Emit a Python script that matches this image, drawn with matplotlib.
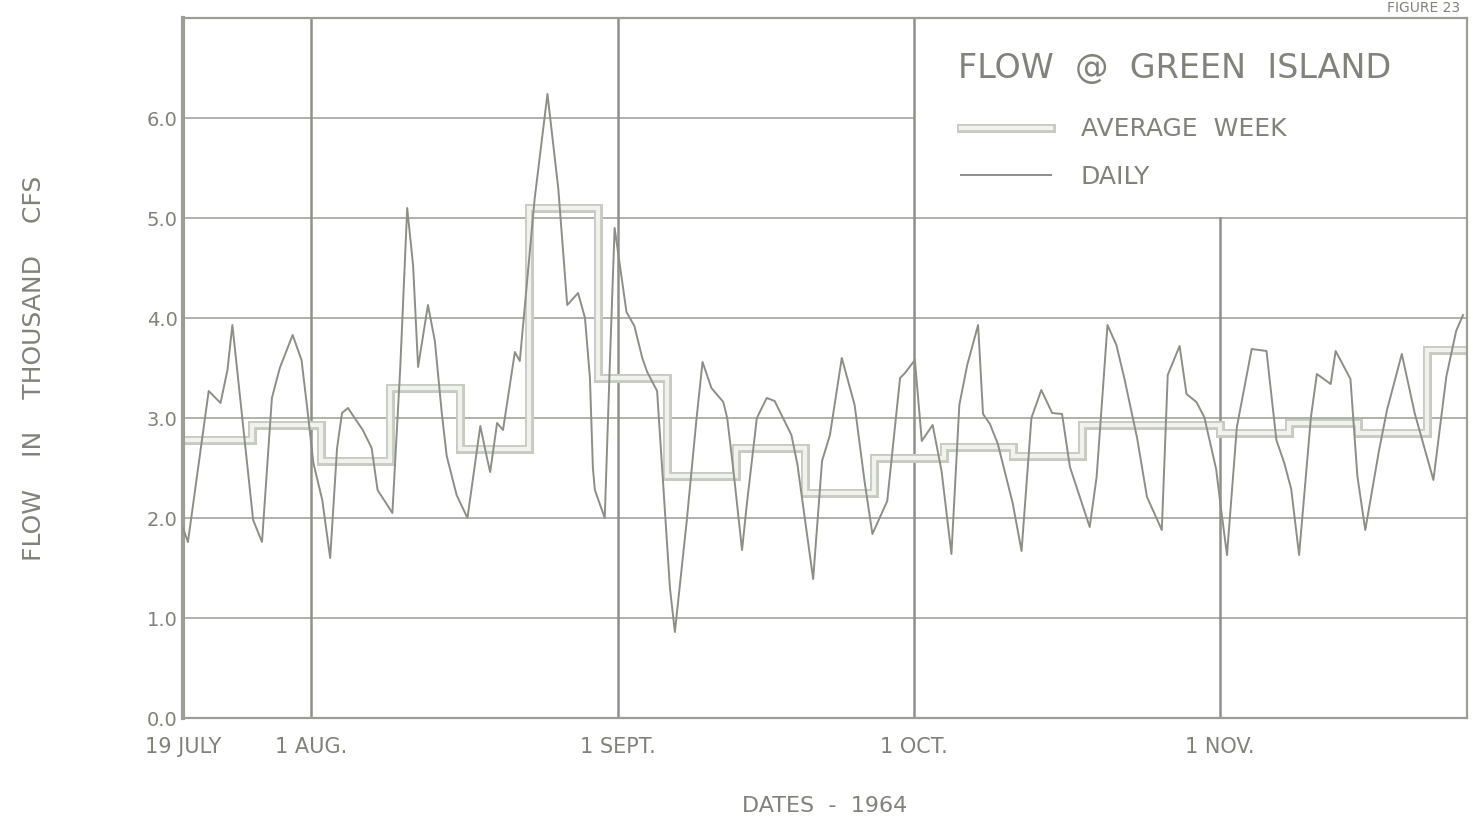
import matplotlib
matplotlib.use("Agg")
import matplotlib.pyplot as plt
import matplotlib.patheffects as pe
from matplotlib.patches import Rectangle
from matplotlib.lines import Line2D

# ---- data (days after 19 July 1964, flow in thousand cfs) ----
daily_day = [0.0, 0.5, 2.6, 3.8, 4.5, 5.0, 6.0, 7.1, 8.0, 9.0,
             9.8, 11.1, 12.0, 12.6, 13.2, 14.1, 14.9, 15.6, 16.1, 16.7,
             18.2, 19.1, 19.7, 21.2, 22.0, 22.7, 23.3, 23.8, 24.8, 25.5,
             26.2, 26.7, 27.7, 28.8, 30.1, 30.8, 31.1, 31.8, 32.4, 33.6,
             34.1, 35.6, 36.9, 38.0, 38.9, 40.0, 40.7, 41.2, 41.5, 41.7,
             42.7, 43.2, 43.7, 44.4, 44.9, 45.7, 46.5, 47.0, 48.0, 49.3,
             49.8, 51.0, 52.0, 52.6, 53.5, 54.7, 55.1, 55.7, 56.6, 57.1,
             58.1, 59.1, 59.9, 61.6, 62.2, 63.8, 64.7, 65.5, 66.7, 68.0,
             69.0, 69.8, 71.3, 72.6, 73.1, 74.1, 74.8, 75.9, 76.8, 77.8,
             78.6, 79.4, 80.5, 81.0, 81.7, 82.5, 84.0, 84.9, 85.9, 86.9,
             88.0, 89.0, 89.8, 91.8, 92.5, 93.6, 94.5, 95.3, 96.6, 97.6,
             99.1, 99.7, 100.9, 101.6, 102.6, 103.4, 104.6, 105.1, 105.7, 106.7,
             108.2, 109.7, 110.7, 111.5, 112.2, 113.0, 114.2, 114.8, 116.2, 116.7,
             118.2, 118.9, 119.7, 121.1, 121.9, 123.4, 124.7, 126.6, 127.9, 128.9,
             129.6]
daily_flow = [1.9, 1.76, 3.27, 3.15, 3.48, 3.93, 3.0, 1.98, 1.76, 3.2,
              3.5, 3.83, 3.58, 3.08, 2.55, 2.18, 1.6, 2.7, 3.05, 3.1,
              2.88, 2.7, 2.28, 2.05, 3.51, 5.1, 4.52, 3.51, 4.13, 3.77,
              3.05, 2.62, 2.23, 2.0, 2.92, 2.59, 2.46, 2.95, 2.88, 3.66,
              3.57, 5.19, 6.24, 5.29, 4.13, 4.25, 4.0, 3.4, 2.5, 2.28,
              2.0, 3.5, 4.9, 4.41, 4.06, 3.92, 3.6, 3.46, 3.27, 1.3,
              0.86, 1.97, 3.0, 3.56, 3.3, 3.16, 3.0, 2.5, 1.68, 2.15,
              3.0, 3.2, 3.17, 2.83, 2.54, 1.39, 2.57, 2.83, 3.6, 3.13,
              2.37, 1.84, 2.17, 3.4, 3.45, 3.58, 2.77, 2.93, 2.47, 1.64,
              3.13, 3.53, 3.93, 3.04, 2.94, 2.74, 2.15, 1.67, 3.0, 3.28,
              3.05, 3.04, 2.51, 1.91, 2.41, 3.93, 3.73, 3.4, 2.8, 2.21,
              1.88, 3.43, 3.72, 3.24, 3.16, 3.01, 2.49, 2.09, 1.63, 2.91,
              3.69, 3.67, 2.78, 2.55, 2.29, 1.63, 3.01, 3.44, 3.34, 3.67,
              3.39, 2.42, 1.88, 2.68, 3.08, 3.64, 3.05, 2.38, 3.41, 3.87,
              4.03]

week_edges = [0, 7, 14, 21, 28, 35, 42, 49, 56, 63, 70, 77, 84, 91, 98,
              105, 112, 119, 126, 133]
week_avg = [2.78, 2.93, 2.57, 3.30, 2.69, 5.10, 3.40, 2.42, 2.70, 2.25,
            2.60, 2.71, 2.62, 2.93, 2.93, 2.85, 2.95, 2.85, 3.68]

month_days = [0, 13, 44, 74, 105]
month_labels = ["19 JULY", "1 AUG.", "1 SEPT.", "1 OCT.", "1 NOV."]
y_ticks = [0, 1, 2, 3, 4, 5, 6]
y_labels = ["0.0", "1.0", "2.0", "3.0", "4.0", "5.0", "6.0"]

# ---- style ----
txt = "#7f837a"
grid_c = "#a9aca3"
vline_c = "#8e9189"
daily_c = "#8b8f86"
week_edge = "#c8cbc1"
week_fill = "#f1f2ed"

fig = plt.figure(figsize=(14.73, 8.35), dpi=100)
ax = fig.add_axes([183 / 1473, 1 - 718 / 835, (1467 - 183) / 1473, 700 / 835])
ax.set_xlim(0, 130)
ax.set_ylim(0, 7)

# horizontal grid
for yv in y_ticks[1:]:
    ax.axhline(yv, color=grid_c, lw=1.3, zorder=0.5)

# blank legend area (covers upper right grid)
ax.add_patch(Rectangle((74, 5.03), 60, 2.5, facecolor="white", edgecolor="none", zorder=0.8))

# vertical month lines
for d in month_days[1:]:
    top = 1.0 if d <= 74 else 5.0 / 7.0
    ax.axvline(d, ymin=0, ymax=top, color=vline_c, lw=1.8, zorder=0.9)

week_pe = [pe.Stroke(linewidth=6.5, foreground=week_edge), pe.Normal()]
# weekly average (double-line look)
ax.stairs(week_avg, week_edges, baseline=None, color=week_fill, lw=3.0, zorder=2,
          path_effects=week_pe)
# daily
ax.plot(daily_day, daily_flow, color=daily_c, lw=1.4, zorder=3)

# axes styling
for s in ax.spines.values():
    s.set_color("#9b9e95")
    s.set_linewidth(1.6)
ax.spines["left"].set_linewidth(3)
ax.tick_params(length=0, colors=txt)
ax.set_yticks(y_ticks)
ax.set_yticklabels(y_labels, fontsize=14, color=txt)
ax.set_xticks(month_days)
ax.set_xticklabels(month_labels, fontsize=15, color=txt)
ax.tick_params(axis="x", pad=14)
ax.tick_params(axis="y", pad=4)

ax.set_xlabel("DATES  -  1964", fontsize=16, color=txt, labelpad=28)
ax.set_ylabel("FLOW    IN    THOUSAND    CFS", fontsize=18, color=txt, labelpad=72)

# legend
fig.text(958 / 1473, 1 - 68 / 835, "FLOW  @  GREEN  ISLAND", ha="left", va="center",
         fontsize=24, color=txt)
h_week = Line2D([], [], color=week_fill, lw=3.0, path_effects=week_pe)
h_day = Line2D([], [], color=daily_c, lw=1.4)
leg = ax.legend([h_week, h_day], ["AVERAGE  WEEK", "DAILY"],
                loc="upper left", bbox_to_anchor=(0.596, 0.876), frameon=False,
                fontsize=18, handlelength=3.6, handletextpad=1.2, labelspacing=0.95,
                borderpad=0.0)
for t in leg.get_texts():
    t.set_color(txt)

fig.text(1460 / 1473, 0.999, "FIGURE 23", ha="right", va="top", fontsize=10, color=txt)

fig.savefig("out.png", dpi=100, facecolor="white")
